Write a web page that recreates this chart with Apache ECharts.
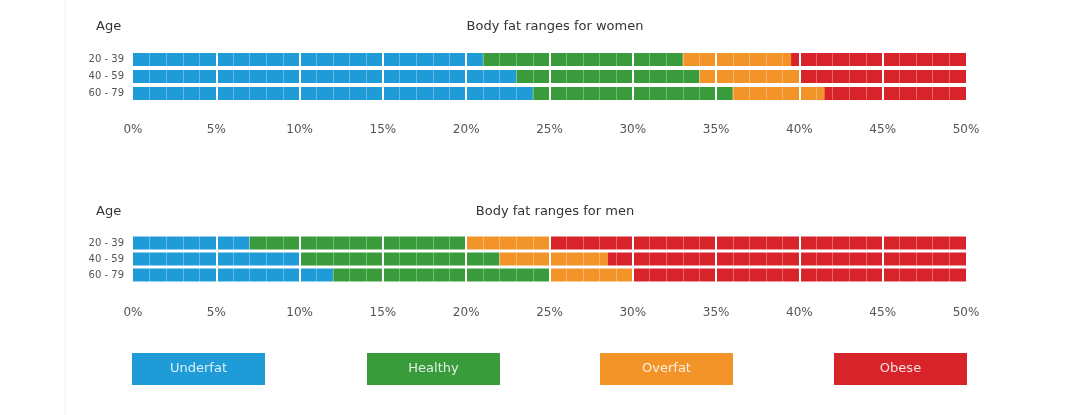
<!DOCTYPE html>
<html>
<head>
<meta charset="utf-8">
<script src="https://cdn.jsdelivr.net/npm/echarts@6/dist/echarts.min.js"></script>
<style>
  html, body { margin: 0; padding: 0; background: #fff; }
  #chart { width: 1080px; height: 415px; }
</style>
</head>
<body>
<div id="chart"></div>
<script>
// data
var ages = ["20 - 39", "40 - 59", "60 - 79"];
var categories = ["Underfat", "Healthy", "Overfat", "Obese"];
var colors = ["#1f9bd7", "#3a9b3d", "#f39428", "#d8232a"];
var ticks = [0, 5, 10, 15, 20, 25, 30, 35, 40, 45, 50];
// upper limit (%) of each range, one value per age group
var womenUnderfat = [21, 23, 24];
var womenHealthy = [33, 34, 36];
var womenOverfat = [39.5, 40, 41.5];
var womenObese = [50, 50, 50];
var menUnderfat = [7, 10, 12];
var menHealthy = [20, 22, 25];
var menOverfat = [25, 28.5, 30];
var menObese = [50, 50, 50];

var myChart = echarts.init(document.getElementById("chart"));
var font = "DejaVu Sans";

// turn upper limits into stacked widths
function widths(upper, lower) {
  return upper.map(function (v, i) {
    return +(v - (lower ? lower[i] : 0)).toFixed(2);
  });
}

function makeSeries(gridIdx, bounds) {
  return categories.map(function (name, c) {
    return {
      name: name,
      type: "bar",
      stack: "g" + gridIdx,
      xAxisIndex: gridIdx,
      yAxisIndex: gridIdx,
      barWidth: 13,
      itemStyle: { color: colors[c] },
      data: widths(bounds[c], c > 0 ? bounds[c - 1] : null),
      silent: true
    };
  });
}

function xAxis(gridIdx, margin) {
  return {
    gridIndex: gridIdx,
    type: "value",
    min: ticks[0],
    max: ticks[ticks.length - 1],
    interval: 5,
    z: 10,
    axisLine: { show: false },
    axisTick: { show: false },
    minorTick: { show: false, splitNumber: 5 },
    axisLabel: {
      formatter: "{value}%",
      margin: margin,
      color: "#555",
      fontSize: 12,
      fontFamily: font
    },
    splitLine: {
      show: true,
      showMinLine: false,
      showMaxLine: false,
      lineStyle: { color: "#fff", width: 2 }
    },
    minorSplitLine: {
      show: true,
      lineStyle: { color: "rgba(255,255,255,0.3)", width: 1 }
    }
  };
}

function yAxis(gridIdx) {
  return {
    gridIndex: gridIdx,
    type: "category",
    data: ages,
    inverse: true,
    axisLine: { show: false },
    axisTick: { show: false },
    axisLabel: { margin: 9, color: "#555", fontSize: 10, fontFamily: font }
  };
}

function heading(text, left, top, align) {
  return {
    text: text,
    left: left,
    top: top,
    textAlign: align,
    textStyle: { fontSize: 13, fontWeight: "normal", color: "#333", fontFamily: font }
  };
}

var legendX = [132, 367, 600, 834];
var legendGraphics = categories.map(function (name, c) {
  return {
    type: "group",
    left: legendX[c],
    top: 353,
    children: [
      { type: "rect", shape: { x: 0, y: 0, width: 133, height: 32 }, style: { fill: colors[c] } },
      {
        type: "text",
        x: 66.5,
        y: 16,
        style: {
          text: name,
          fill: "rgba(255,255,255,0.85)",
          font: "13px " + font,
          textAlign: "center",
          textVerticalAlign: "middle"
        }
      }
    ]
  };
});
legendGraphics.push({
  type: "line",
  shape: { x1: 65, y1: 0, x2: 65, y2: 415 },
  style: { stroke: "#f0f0f0", lineWidth: 1 }
});

var option = {
  animation: false,
  backgroundColor: "#fff",
  title: [
    heading("Age", 91, 15, "left"),
    heading("Body fat ranges for women", 550, 15, "center"),
    heading("Age", 91, 200, "left"),
    heading("Body fat ranges for men", 550, 200, "center")
  ],
  grid: [
    { left: 133, right: 114, top: 51, height: 51 },
    { left: 133, right: 114, top: 235, height: 48 }
  ],
  xAxis: [xAxis(0, 22), xAxis(1, 24)],
  yAxis: [yAxis(0), yAxis(1)],
  graphic: legendGraphics,
  series: makeSeries(0, [womenUnderfat, womenHealthy, womenOverfat, womenObese])
    .concat(makeSeries(1, [menUnderfat, menHealthy, menOverfat, menObese]))
};

option && myChart.setOption(option);
</script>
</body>
</html>
